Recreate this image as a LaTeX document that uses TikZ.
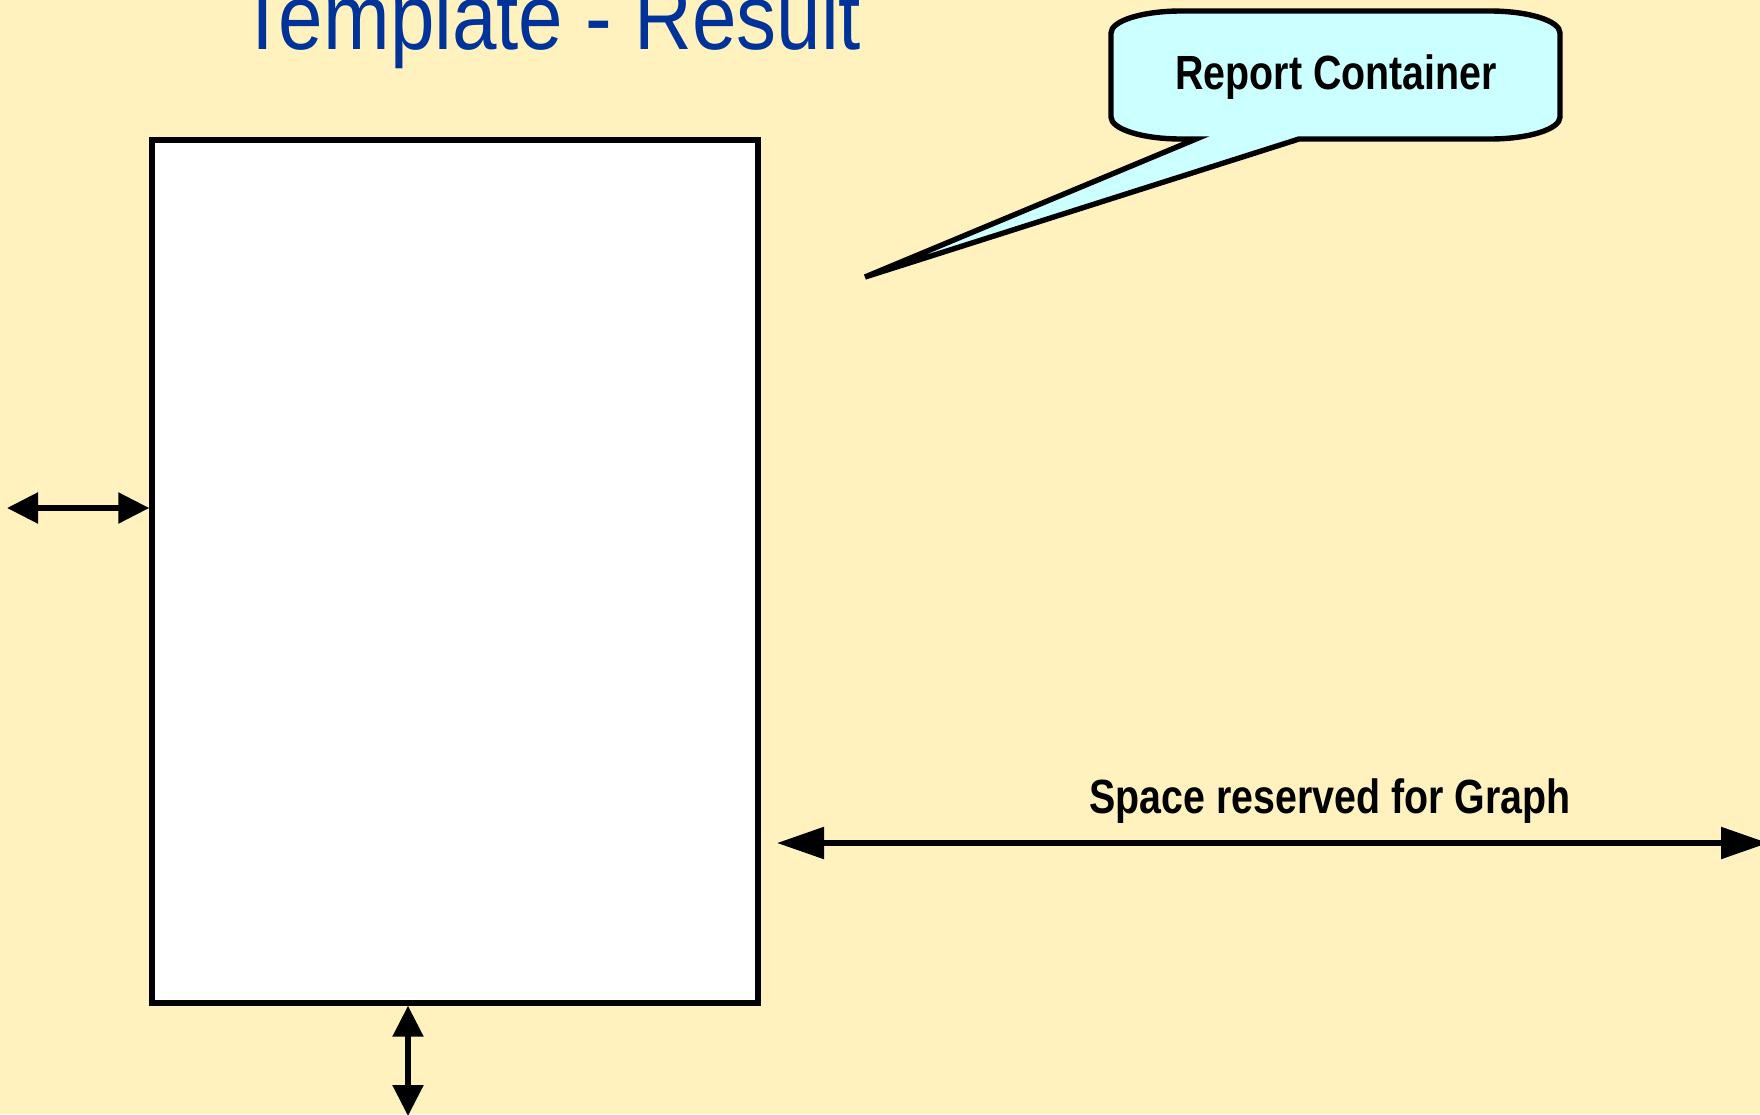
\documentclass[tikz,border=0pt]{standalone}
\usepackage{fontspec}
\setmainfont{Liberation Sans}
\newfontfamily\narrowsans[FakeStretch=0.82]{Liberation Sans}
\newfontfamily\titlesans[FakeStretch=0.86]{Liberation Sans}
\usetikzlibrary{arrows.meta}
\definecolor{paper}{RGB}{255,242,191}
\definecolor{bubble}{RGB}{204,255,255}
\definecolor{titleblue}{RGB}{0,51,153}

\begin{document}
\begin{tikzpicture}[x=0.5pt, y=-0.5pt,
  gap/.style = {line width=2.7pt, <->, >={Triangle[length=15.5pt, width=15pt]}},
  span/.style = {line width=2.7pt, <->, >={Triangle[length=23.5pt, width=15.5pt]}},
  tag/.style = {anchor=base, font=\narrowsans\bfseries\fontsize{24}{28}\selectfont}]
  \useasboundingbox (0,0) rectangle (1760,1114);
  \fill[paper] (0,0) rectangle (1760,1114);
  \node[anchor=base, text=titleblue, font=\titlesans\fontsize{46.5}{54}\selectfont] (title) at (550,49) {Template - Result};
  \node[draw, fill=white, line width=2.7pt, inner sep=0pt, minimum width=303pt, minimum height=431.5pt] (report) at (455,571.5) {};
  \coordinate (lm) at (7,508);
  \coordinate (bm) at (408,1116);
  \coordinate (gl) at (777,843);
  \coordinate (gr) at (1768,843);
  \coordinate (tip) at (865,277);
  \draw[gap] (lm) -- (lm -| report.west);
  \draw[gap] (report.south -| bm) -- (bm);
  \draw[span] (gl) -- (gr);
  \node[tag] (glabel) at (1330,813) {Space reserved for Graph};
  \draw[fill=bubble, line width=2.7pt] (1181,11) -- (1490,11)
    arc[start angle=-90, end angle=0, x radius=70, y radius=22] -- (1560,117)
    arc[start angle=0, end angle=90, x radius=70, y radius=22] -- (1299,139) -- (tip) -- (1196,139) -- (1181,139)
    arc[start angle=90, end angle=180, x radius=70, y radius=22] -- (1111,33)
    arc[start angle=180, end angle=270, x radius=70, y radius=22] -- cycle;
  \node[tag] (bubbletext) at (1336,89) {Report Container};
\end{tikzpicture}
\end{document}
